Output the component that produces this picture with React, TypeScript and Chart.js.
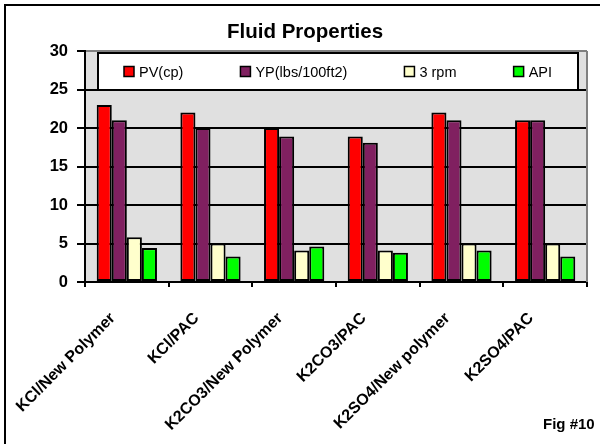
import React, { useEffect, useRef } from "react";
import { Chart, registerables } from "chart.js";

Chart.register(...registerables);

const categories = [
  "KCl/New Polymer",
  "KCl/PAC",
  "K2CO3/New Polymer",
  "K2CO3/PAC",
  "K2SO4/New polymer",
  "K2SO4/PAC",
];
const pv = [23, 22, 20, 18.9, 22, 21];
const yp = [21, 20, 18.9, 18.1, 21, 21];
const rpm3 = [5.8, 5, 4.1, 4.1, 5, 5];
const api = [4.4, 3.3, 4.6, 3.8, 4.1, 3.3];
const seriesLabels = ["PV(cp)", "YP(lbs/100ft2)", "3 rpm", "API"];
const seriesColors = ["#ff0000", "#802060", "#ffffcc", "#00ff00"];
const yMin = 0;
const yMax = 30;
const yStep = 5;
const titleText = "Fluid Properties";
const figText = "Fig #10";

const FONT = '"Liberation Sans", Arial, sans-serif';

const framePlugin = {
  id: "framePlugin",
  beforeDraw(chart: any) {
    const { ctx, chartArea } = chart;
    ctx.save();
    ctx.fillStyle = "#ffffff";
    ctx.fillRect(0, 0, chart.width, chart.height);
    ctx.fillStyle = "#e0e0e0";
    ctx.fillRect(chartArea.left, chartArea.top, chartArea.right - chartArea.left, chartArea.bottom - chartArea.top);
    ctx.restore();
  },
  afterDraw(chart: any) {
    const { ctx, chartArea } = chart;
    ctx.save();
    // outer frame
    ctx.strokeStyle = "#000";
    ctx.lineWidth = 2;
    ctx.strokeRect(5, 5, 800, 800);
    // right plot border
    ctx.strokeStyle = "#808080";
    ctx.beginPath();
    ctx.moveTo(chartArea.right, chartArea.top);
    ctx.lineTo(chartArea.right, chartArea.bottom);
    ctx.stroke();
    // title
    ctx.fillStyle = "#000";
    ctx.font = "bold 20.5px " + FONT;
    ctx.textAlign = "center";
    ctx.textBaseline = "middle";
    ctx.fillText(titleText, 305, 32);
    // fig label
    ctx.font = "bold 15px " + FONT;
    ctx.textAlign = "left";
    ctx.textBaseline = "alphabetic";
    ctx.fillText(figText, 543, 429);

    // legend box
    const bx = chartArea.left + 13;
    const by = chartArea.top + 2;
    const bw = 480;
    const bh = 37;
    ctx.fillStyle = "#fff";
    ctx.fillRect(bx, by, bw, bh);
    ctx.strokeStyle = "#000";
    ctx.lineWidth = 2;
    ctx.strokeRect(bx, by, bw, bh);
    ctx.font = "14.5px " + FONT;
    const ds = chart.data.datasets;
    const sq = 10;
    const gapT = 5;
    const widths = ds.map((d: any) => sq + gapT + ctx.measureText(d.label).width);
    const total = widths.reduce((a: number, b: number) => a + b, 0);
    const pad = 26;
    const gap = (bw - 2 * pad - total) / (ds.length - 1);
    let x = bx + pad;
    const cy = by + bh / 2;
    ds.forEach((d: any, i: number) => {
      ctx.fillStyle = d.backgroundColor;
      ctx.fillRect(x, cy - sq / 2, sq, sq);
      ctx.strokeStyle = "#000";
      ctx.lineWidth = 1.5;
      ctx.strokeRect(x, cy - sq / 2, sq, sq);
      ctx.fillStyle = "#000";
      ctx.textAlign = "left";
      ctx.textBaseline = "middle";
      ctx.fillText(d.label, x + sq + gapT, cy + 1);
      x += widths[i] + gap;
    });
    ctx.restore();
  },
};

export default function App() {
  const ref = useRef<HTMLCanvasElement | null>(null);
  useEffect(() => {
    if (!ref.current) return;
    const series = [pv, yp, rpm3, api];
    const chart = new Chart(ref.current, {
      type: "bar",
      data: {
        labels: categories,
        datasets: series.map((s, i) => ({
          label: seriesLabels[i],
          data: s,
          backgroundColor: seriesColors[i],
          borderColor: "#000",
          borderWidth: 2,
          borderSkipped: false,
          categoryPercentage: 0.72,
          barPercentage: 1,
        })),
      },
      options: {
        responsive: false,
        animation: false,
        devicePixelRatio: 1,
        layout: { padding: { top: 51, right: 13, left: 0, bottom: 0 } },
        plugins: {
          legend: { display: false },
          title: { display: false },
          tooltip: { enabled: false },
        },
        scales: {
          x: {
            offset: true,
            grid: {
              drawOnChartArea: false,
              offset: true,
              color: "#000",
              tickColor: "#000",
              tickLength: 5,
              lineWidth: 2,
            },
            border: { color: "#000", width: 2 },
            ticks: {
              color: "#000",
              font: { family: FONT, size: 16, weight: "bold" },
              minRotation: 45,
              maxRotation: 45,
              autoSkip: false,
              padding: 22,
              labelOffset: -14,
            },
            afterFit(scale: any) {
              scale.height = 444 - 282;
            },
          },
          y: {
            min: yMin,
            max: yMax,
            ticks: {
              stepSize: yStep,
              color: "#000",
              font: { family: FONT, size: 16.5, weight: "bold" },
              padding: 9,
            },
            grid: {
              color: (c: any) => (c.tick && c.tick.value === yMax ? "#808080" : "#000"),
              tickColor: "#000",
              tickLength: 8,
              lineWidth: 2,
            },
            border: { color: "#000", width: 2 },
            afterFit(scale: any) {
              scale.width = 85;
            },
          },
        },
      },
      plugins: [framePlugin],
    } as any);
    return () => chart.destroy();
  }, []);
  return (
    <div style={{ position: "fixed", left: 0, top: 0, width: 600, height: 444, background: "#fff" }}>
      <canvas ref={ref} width={600} height={444} style={{ width: 600, height: 444, display: "block" }} />
    </div>
  );
}
